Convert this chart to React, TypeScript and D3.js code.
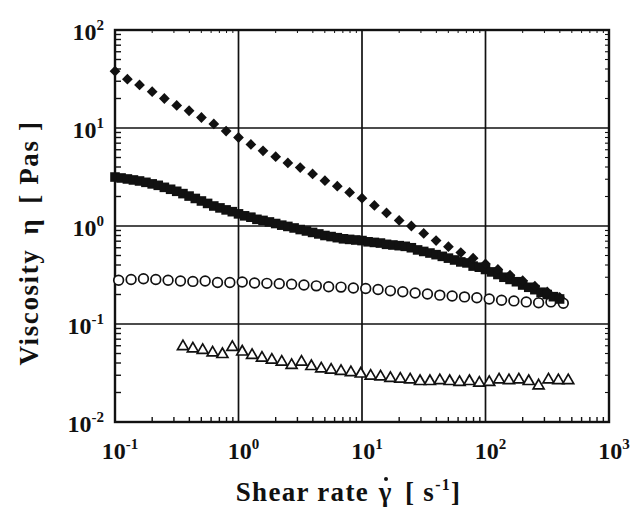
import React from 'react';
import * as d3 from 'd3';

// ---- data ----
const diamondX = [0.1, 0.126, 0.158, 0.2, 0.251, 0.316, 0.398, 0.501, 0.631, 0.794, 1, 1.26, 1.58, 2.0, 2.51, 3.16, 3.98, 5.01, 6.31, 7.94, 10, 12.6, 15.8, 20, 25.1, 31.6, 39.8, 50.1, 63.1, 79.4, 100, 126, 158, 200, 251, 316, 398];
const diamondY = [38, 31.5, 27.5, 23.5, 20, 17, 15, 12.8, 11, 9.3, 8.0, 6.8, 5.85, 5.1, 4.4, 3.95, 3.4, 2.9, 2.55, 2.2, 1.92, 1.62, 1.36, 1.14, 1.0, 0.84, 0.71, 0.615, 0.535, 0.47, 0.41, 0.36, 0.315, 0.277, 0.243, 0.213, 0.187];

const squareX = [0.1, 0.112, 0.126, 0.141, 0.158, 0.178, 0.2, 0.224, 0.251, 0.282, 0.316, 0.355, 0.398, 0.447, 0.501, 0.562, 0.631, 0.708, 0.794, 0.891,
  1, 1.12, 1.26, 1.41, 1.58, 1.78, 2.0, 2.24, 2.51, 2.82, 3.16, 3.55, 3.98, 4.47, 5.01, 5.62, 6.31, 7.08, 7.94, 8.91,
  10, 11.2, 12.6, 14.1, 15.8, 17.8, 20, 22.4, 25.1, 28.2, 31.6, 35.5, 39.8, 44.7, 50.1, 56.2, 63.1, 70.8, 79.4, 89.1,
  100, 112, 126, 141, 158, 178, 200, 224, 251, 282, 316, 355, 398];
const squareY = [3.16, 3.09, 3.02, 2.95, 2.88, 2.79, 2.69, 2.60, 2.48, 2.37, 2.26, 2.14, 2.02, 1.91, 1.80, 1.70, 1.60, 1.53, 1.46, 1.40,
  1.33, 1.27, 1.23, 1.17, 1.14, 1.10, 1.06, 1.02, 0.99, 0.955, 0.92, 0.89, 0.86, 0.83, 0.80, 0.78, 0.76, 0.74, 0.73, 0.72,
  0.71, 0.69, 0.68, 0.67, 0.65, 0.64, 0.63, 0.62, 0.60, 0.57, 0.55, 0.53, 0.51, 0.49, 0.47, 0.45, 0.43, 0.42, 0.39, 0.38,
  0.36, 0.34, 0.32, 0.30, 0.285, 0.27, 0.25, 0.237, 0.224, 0.211, 0.20, 0.19, 0.18];

const circleX = [0.107, 0.135, 0.170, 0.214, 0.269, 0.339, 0.427, 0.537, 0.676, 0.851, 1.072, 1.349, 1.698, 2.138, 2.692, 3.388, 4.266, 5.370, 6.761, 8.511,
  10.72, 13.49, 16.98, 21.38, 26.92, 33.88, 42.66, 53.70, 67.61, 85.11, 107.2, 134.9, 169.8, 213.8, 269.2, 338.8, 426.6];
const circleY = [0.28, 0.285, 0.29, 0.285, 0.28, 0.275, 0.272, 0.275, 0.265, 0.265, 0.268, 0.262, 0.26, 0.258, 0.255, 0.25, 0.245, 0.24, 0.238, 0.233,
  0.23, 0.225, 0.218, 0.213, 0.207, 0.202, 0.197, 0.193, 0.189, 0.185, 0.18, 0.175, 0.172, 0.168, 0.165, 0.168, 0.163];

const triangleX = [0.355, 0.427, 0.513, 0.617, 0.741, 0.891, 1.072, 1.288, 1.549, 1.862, 2.239, 2.692, 3.236, 3.890, 4.677, 5.623, 6.761, 8.128, 9.772,
  11.75, 14.13, 16.98, 20.42, 24.55, 29.51, 35.48, 42.66, 51.29, 61.66, 74.13, 89.13, 107.2, 128.8, 154.9, 186.2, 223.9, 269.2, 323.6, 389.0, 467.7];
const triangleY = [0.059, 0.056, 0.054, 0.051, 0.049, 0.058, 0.052, 0.048, 0.045, 0.043, 0.041, 0.038, 0.041, 0.037, 0.035, 0.034, 0.033, 0.032, 0.031,
  0.0295, 0.029, 0.028, 0.0275, 0.027, 0.026, 0.026, 0.0265, 0.026, 0.0255, 0.026, 0.025, 0.0255, 0.027, 0.0265, 0.027, 0.026, 0.0235, 0.027, 0.0265, 0.0265];

const xTicks = [0.1, 1, 10, 100, 1000];
const xTickExp = ['-1', '0', '1', '2', '3'];
const yTicks = [0.01, 0.1, 1, 10, 100];
const yTickExp = ['-2', '-1', '0', '1', '2'];

const FONT = '"Liberation Serif", "DejaVu Serif", serif';

export default function App() {
  const W = 638, H = 515;
  const L = 115, R = 609, T = 30, B = 422;
  const x = d3.scaleLog().domain([0.1, 1000]).range([L, R]);
  const y = d3.scaleLog().domain([0.01, 100]).range([B, T]);

  const minorX: number[] = [];
  for (const d of [0.1, 1, 10, 100]) for (let k = 2; k <= 9; k++) minorX.push(d * k);
  const minorY: number[] = [];
  for (const d of [0.01, 0.1, 1, 10]) for (let k = 2; k <= 9; k++) minorY.push(d * k);

  const diamond = d3.symbol().type(d3.symbolSquare).size(58)()!;
  const square = d3.symbol().type(d3.symbolSquare).size(92)()!;
  const circle = d3.symbol().type(d3.symbolCircle).size(74)()!;
  const triangle = d3.symbol().type(d3.symbolTriangle).size(52)()!;

  return (
    <svg width={W} height={H} style={{ position: 'absolute', left: 0, top: 0, background: '#fff' }} fontFamily={FONT}>
      <rect x={0} y={0} width={W} height={H} fill="#fff" />
      {/* grid */}
      {xTicks.slice(1, -1).map((v) => (
        <line key={'gx' + v} x1={x(v)} x2={x(v)} y1={T} y2={B} stroke="#111" strokeWidth={1.7} />
      ))}
      {yTicks.slice(1, -1).map((v) => (
        <line key={'gy' + v} x1={L} x2={R} y1={y(v)} y2={y(v)} stroke="#111" strokeWidth={1.7} />
      ))}
      {/* minor ticks */}
      {minorY.map((v) => (
        <g key={'my' + v}>
          <line x1={L} x2={L + 6} y1={y(v)} y2={y(v)} stroke="#111" strokeWidth={1.4} />
          <line x1={R} x2={R - 4} y1={y(v)} y2={y(v)} stroke="#111" strokeWidth={1.1} />
        </g>
      ))}
      {minorX.map((v) => (
        <g key={'mx' + v}>
          <line x1={x(v)} x2={x(v)} y1={B} y2={B - 5} stroke="#111" strokeWidth={1.4} />
          <line x1={x(v)} x2={x(v)} y1={T} y2={T + 3} stroke="#111" strokeWidth={1} />
        </g>
      ))}
      {/* frame */}
      <rect x={L} y={T} width={R - L} height={B - T} fill="none" stroke="#111" strokeWidth={2.4} />

      {/* series */}
      {circleX.map((v, i) => (
        <path key={'c' + i} d={circle} transform={`translate(${x(v)},${y(circleY[i])})`} fill="#fff" stroke="#111" strokeWidth={1.7} />
      ))}
      {triangleX.map((v, i) => (
        <path key={'t' + i} d={triangle} transform={`translate(${x(v)},${y(triangleY[i])})`} fill="#fff" stroke="#111" strokeWidth={1.7} />
      ))}
      {squareX.map((v, i) => (
        <path key={'s' + i} d={square} transform={`translate(${x(v)},${y(squareY[i])})`} fill="#111" />
      ))}
      {diamondX.map((v, i) => (
        <path key={'d' + i} d={diamond} transform={`translate(${x(v)},${y(diamondY[i])}) rotate(45)`} fill="#111" />
      ))}

      {/* tick labels */}
      {xTicks.map((v, i) => (
        <text key={'xl' + v} x={x(v) + 5} y={459} textAnchor="middle" fontSize={24} fontWeight="bold" fill="#111">
          <tspan>10</tspan>
          <tspan dy={-10} fontSize={15}>{xTickExp[i]}</tspan>
        </text>
      ))}
      {yTicks.map((v, i) => (
        <text key={'yl' + v} x={104} y={y(v) + 10} textAnchor="end" fontSize={24} fontWeight="bold" fill="#111">
          <tspan>10</tspan>
          <tspan dy={-10} fontSize={15}>{yTickExp[i]}</tspan>
        </text>
      ))}

      {/* axis titles */}
      <text x={369} y={501} textAnchor="end" fontSize={27} fontWeight="bold" fill="#111" letterSpacing={1.3}>Shear rate</text>
      <text x={385} y={501} textAnchor="middle" fontSize={27} fontWeight="bold" fill="#111">γ</text>
      <circle cx={386} cy={479} r={2} fill="#111" />
      <text x={405} y={501} textAnchor="start" fontSize={27} fontWeight="bold" fill="#111" letterSpacing={1.3}>
        <tspan>[ s</tspan>
        <tspan dy={-11} fontSize={16}>-1</tspan>
        <tspan dy={11}>]</tspan>
      </text>
      <text transform="translate(38,243) rotate(-90)" textAnchor="middle" fontSize={27} fontWeight="bold" fill="#111" letterSpacing={1.6}>
        <tspan>Viscosity</tspan>
        <tspan dx={14}>η</tspan>
        <tspan dx={14}>[ Pas ]</tspan>
      </text>
    </svg>
  );
}
